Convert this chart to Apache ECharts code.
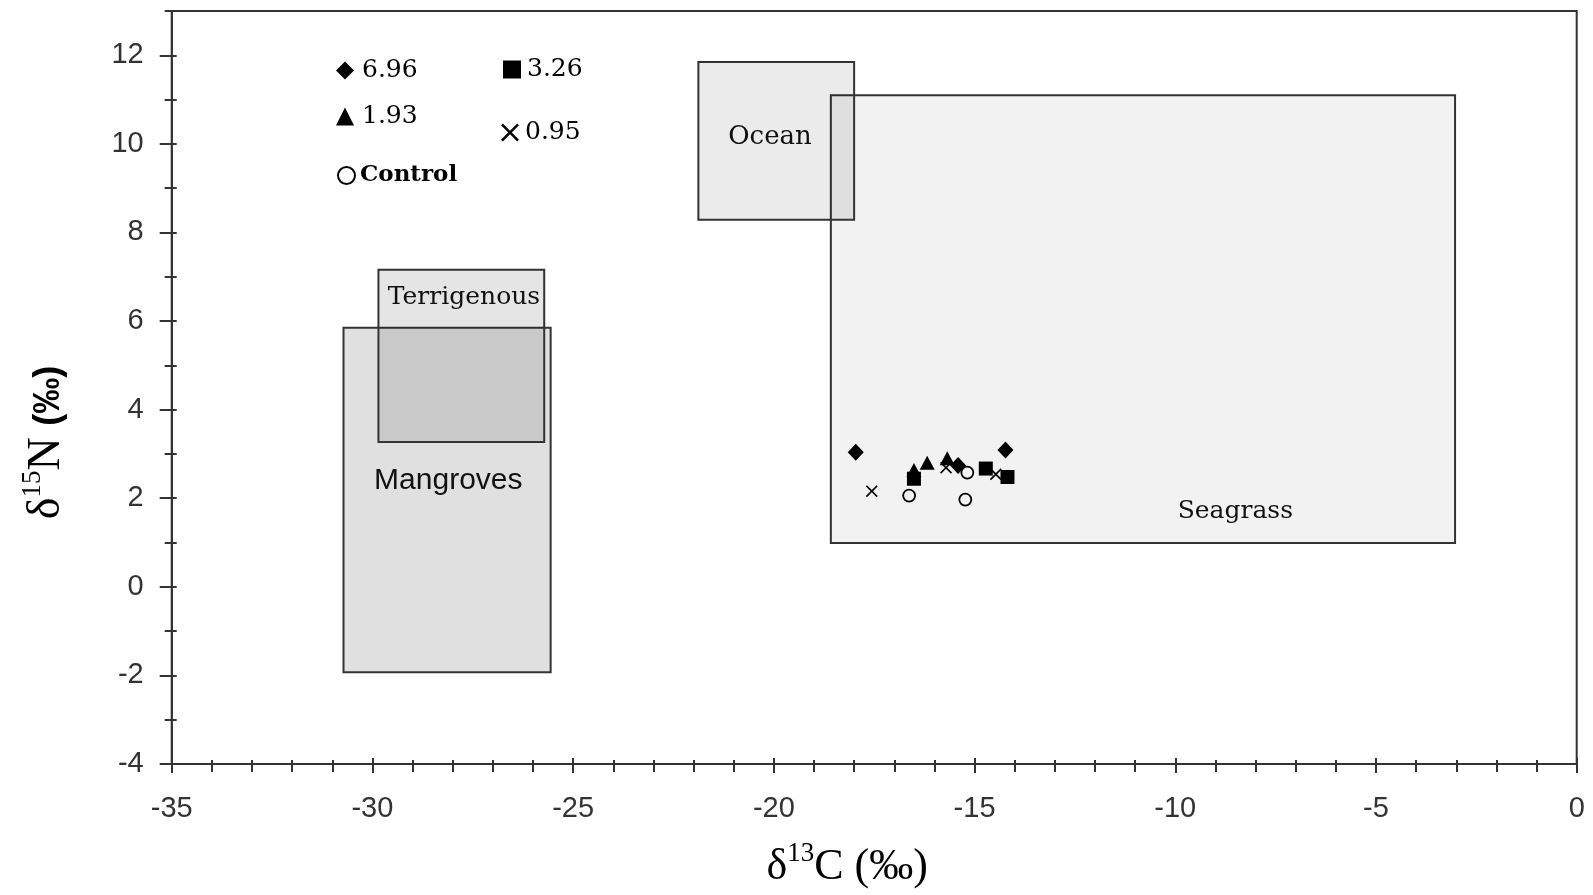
<!DOCTYPE html>
<html>
<head>
<meta charset="utf-8">
<script src="https://cdn.jsdelivr.net/npm/echarts@6/dist/echarts.min.js"></script>
<style>
  html, body { margin: 0; padding: 0; background: #fff; }
  #chart { width: 1593px; height: 895px; }
</style>
</head>
<body>
<div id="chart"></div>
<script>
// tick labels
const xTicks = [-35, -30, -25, -20, -15, -10, -5, 0];
const yTicks = [-4, -2, 0, 2, 4, 6, 8, 10, 12];

// source boxes (d13C range, d15N range)
const regionNames = ['Seagrass', 'Ocean', 'Mangroves', 'Terrigenous'];
const regionX0 = [-18.58, -21.88, -30.72, -29.85];
const regionX1 = [-3.03, -18.0, -25.56, -25.72];
const regionY0 = [0.99, 8.29, -1.93, 3.27];
const regionY1 = [11.10, 11.85, 5.85, 7.16];

// samples [d13C, d15N]
const s696 = [[-17.96, 3.04], [-14.23, 3.09], [-15.41, 2.74]];
const s326 = [[-16.51, 2.44], [-14.72, 2.67], [-14.18, 2.48]];
const s193 = [[-16.51, 2.64], [-16.18, 2.80], [-15.68, 2.90]];
const s095 = [[-17.56, 2.16], [-15.71, 2.69], [-14.47, 2.54]];
const sControl = [[-16.63, 2.06], [-15.18, 2.58], [-15.23, 1.97]];

// how each box is painted
const regionFill = ['rgba(0,0,0,0.05)', 'rgba(0,0,0,0.08)', 'rgba(0,0,0,0.12)', 'rgba(0,0,0,0.10)'];
const regionLabelAt = [[0.648, 0.929], [0.46, 0.478], [0.506, 0.445], [0.516, 0.16]];
const regionFont = [
    '25px "DejaVu Serif"',
    '26px "DejaVu Serif"',
    '30px "Liberation Sans"',
    '25px "DejaVu Serif"'
];

const ink = '#000';
const axisColor = '#333';
const crossPath = 'path://M0,1L1,0L5,4L9,0L10,1L6,5L10,9L9,10L5,6L1,10L0,9L4,5Z';

let myChart = echarts.init(document.getElementById('chart'));

const legendText = (pad, extra) => Object.assign({
    fontFamily: 'DejaVu Serif',
    fontSize: 25,
    color: ink,
    padding: [0, 0, 0, pad]
}, extra || {});

let option = {
    backgroundColor: '#fff',
    animation: false,
    grid: {
        left: 171.7,
        right: 16.3,
        top: 11,
        bottom: 131,
        show: true,
        borderColor: axisColor,
        borderWidth: 2,
        containLabel: false
    },
    legend: [
        { data: ['6.96'], left: 331, top: 53, itemWidth: 18, itemHeight: 18, selectedMode: false, textStyle: legendText(3) },
        { data: ['3.26'], left: 498, top: 52, itemWidth: 18, itemHeight: 18, selectedMode: false, textStyle: legendText(1) },
        { data: ['1.93'], left: 331, top: 99, itemWidth: 18, itemHeight: 18, selectedMode: false, textStyle: legendText(3) },
        { data: ['0.95'], left: 496, top: 115, itemWidth: 18, itemHeight: 18, selectedMode: false, textStyle: legendText(1) },
        { data: ['Control'], left: 332, top: 159, itemWidth: 17, itemHeight: 17, selectedMode: false, textStyle: legendText(0, { fontWeight: 'bold', fontSize: 23 }) }
    ],
    xAxis: [
        {
            type: 'value',
            min: -35,
            max: 0,
            interval: 5,
            name: '{d|δ}{sup|13}{d|C (‰)}',
            nameLocation: 'middle',
            nameGap: 76,
            nameTextStyle: {
                padding: [0, 54, 0, 0],
                rich: {
                    d: { fontFamily: 'Liberation Serif', fontSize: 44, color: ink, verticalAlign: 'bottom' },
                    sup: { fontFamily: 'Liberation Serif', fontSize: 27, color: ink, verticalAlign: 'bottom', padding: [0, 0, 22, 0] }
                }
            },
            axisLine: { show: true, onZero: false, lineStyle: { color: axisColor, width: 2 } },
            axisTick: { show: true, length: 9, lineStyle: { color: axisColor, width: 2 } },
            minorTick: { show: true, splitNumber: 5, length: 8, lineStyle: { color: axisColor, width: 2 } },
            axisLabel: {
                customValues: xTicks,
                margin: 30,
                fontFamily: 'Liberation Sans',
                fontSize: 29,
                color: axisColor
            },
            splitLine: { show: false },
            minorSplitLine: { show: false }
        },
        {
            type: 'value',
            min: -35,
            max: 0,
            interval: 5,
            position: 'bottom',
            axisLine: { show: false, onZero: false },
            axisTick: { show: true, inside: true, length: 6, lineStyle: { color: axisColor, width: 2 } },
            minorTick: { show: true, splitNumber: 5, length: 4, lineStyle: { color: axisColor, width: 2 } },
            axisLabel: { show: false },
            splitLine: { show: false }
        }
    ],
    yAxis: [
        {
            type: 'value',
            min: -4,
            max: 13,
            interval: 2,
            name: '{d|δ}{sup|15}{d|N }{p|(‰)}',
            nameLocation: 'middle',
            nameRotate: 90,
            nameGap: 102,
            nameTextStyle: {
                padding: [0, 110, 0, 0],
                rich: {
                    d: { fontFamily: 'Liberation Serif', fontSize: 46, color: ink, verticalAlign: 'bottom' },
                    sup: { fontFamily: 'Liberation Serif', fontSize: 27, color: ink, verticalAlign: 'bottom', padding: [0, 0, 23, 0] },
                    p: { fontFamily: 'Liberation Sans', fontWeight: 'bold', fontSize: 36, color: ink, verticalAlign: 'bottom', padding: [0, 0, 3, 0] }
                }
            },
            axisLine: { show: true, onZero: false, lineStyle: { color: axisColor, width: 2 } },
            axisTick: { show: true, customValues: yTicks, length: 12, lineStyle: { color: axisColor, width: 2 } },
            axisLabel: {
                customValues: yTicks,
                margin: 28,
                fontFamily: 'Liberation Sans',
                fontSize: 29,
                color: axisColor
            },
            splitLine: { show: false }
        },
        {
            type: 'value',
            min: -4,
            max: 13,
            interval: 1,
            position: 'left',
            axisLine: { show: false, onZero: false },
            axisTick: { show: true, length: 7, lineStyle: { color: axisColor, width: 2 } },
            axisLabel: { show: false },
            splitLine: { show: false }
        },
        {
            type: 'value',
            min: -4,
            max: 13,
            interval: 1,
            position: 'left',
            axisLine: { show: false, onZero: false },
            axisTick: { show: true, inside: true, length: 5, lineStyle: { color: axisColor, width: 2 } },
            axisLabel: { show: false },
            splitLine: { show: false }
        }
    ],
    series: [
        {
            name: 'regions',
            type: 'custom',
            z: 1,
            silent: true,
            data: regionNames.map((n, i) => [regionX0[i], regionX1[i], regionY0[i], regionY1[i]]),
            renderItem: function (params, api) {
                const i = params.dataIndex;
                const p0 = api.coord([api.value(0), api.value(3)]);
                const p1 = api.coord([api.value(1), api.value(2)]);
                const w = p1[0] - p0[0];
                const h = p1[1] - p0[1];
                return {
                    type: 'group',
                    children: [
                        {
                            type: 'rect',
                            shape: { x: p0[0], y: p0[1], width: w, height: h },
                            style: { fill: regionFill[i], stroke: axisColor, lineWidth: 2 }
                        },
                        {
                            type: 'text',
                            x: p0[0] + w * regionLabelAt[i][0],
                            y: p0[1] + h * regionLabelAt[i][1],
                            style: {
                                text: regionNames[i],
                                font: regionFont[i],
                                align: 'center',
                                verticalAlign: 'middle',
                                fill: '#111'
                            }
                        }
                    ]
                };
            }
        },
        {
            name: '6.96',
            type: 'scatter',
            z: 3,
            symbol: 'diamond',
            symbolSize: [16, 17],
            itemStyle: { color: ink, opacity: 1 },
            data: s696
        },
        {
            name: '3.26',
            type: 'scatter',
            z: 3,
            symbol: 'rect',
            symbolSize: 14,
            itemStyle: { color: ink, opacity: 1 },
            data: s326
        },
        {
            name: '1.93',
            type: 'scatter',
            z: 3,
            symbol: 'triangle',
            symbolSize: [15, 14],
            itemStyle: { color: ink, opacity: 1 },
            data: s193
        },
        {
            name: '0.95',
            type: 'scatter',
            z: 3,
            symbol: crossPath,
            symbolSize: 12,
            itemStyle: { color: ink, opacity: 1 },
            data: s095
        },
        {
            name: 'Control',
            type: 'scatter',
            z: 3,
            symbol: 'circle',
            symbolSize: 12,
            itemStyle: { color: 'rgba(0,0,0,0)', borderColor: ink, borderWidth: 1.8, opacity: 1 },
            data: sControl
        }
    ]
};
option && myChart.setOption(option);
</script>
</body>
</html>
